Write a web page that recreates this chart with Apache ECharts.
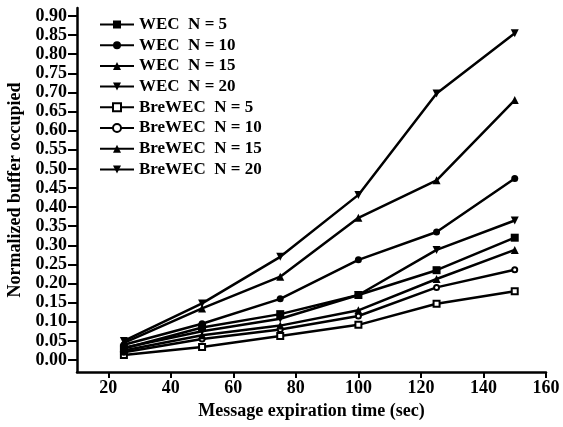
<!DOCTYPE html>
<html>
<head>
<meta charset="utf-8">
<script src="https://cdn.jsdelivr.net/npm/echarts@6/dist/echarts.min.js"></script>
<style>html,body{margin:0;padding:0;background:#fff}#c{width:563px;height:427px}</style>
</head>
<body>
<div id="c"></div>
<script>
var xValues = [25, 50, 75, 100, 125, 150];
var seriesNames = ['WEC  N = 5', 'WEC  N = 10', 'WEC  N = 15', 'WEC  N = 20',
                   'BreWEC  N = 5', 'BreWEC  N = 10', 'BreWEC  N = 15', 'BreWEC  N = 20'];
var wec5 = [0.030, 0.085, 0.120, 0.170, 0.235, 0.320];
var wec10 = [0.040, 0.095, 0.160, 0.262, 0.335, 0.475];
var wec15 = [0.045, 0.135, 0.218, 0.372, 0.470, 0.680];
var wec20 = [0.050, 0.148, 0.270, 0.432, 0.697, 0.855];
var brewec5 = [0.013, 0.034, 0.063, 0.092, 0.147, 0.180];
var brewec10 = [0.020, 0.055, 0.080, 0.115, 0.190, 0.236];
var brewec15 = [0.025, 0.065, 0.090, 0.130, 0.212, 0.288];
var brewec20 = [0.032, 0.075, 0.108, 0.170, 0.288, 0.365];
var yTicks = [0,0.05,0.1,0.15,0.2,0.25,0.3,0.35,0.4,0.45,0.5,0.55,0.6,0.65,0.7,0.75,0.8,0.85,0.9];
var xTicks = [20, 40, 60, 80, 100, 120, 140, 160];

var allData = [wec5, wec10, wec15, wec20, brewec5, brewec10, brewec15, brewec20];
var symbols = ['rect', 'circle', 'triangle', 'triangle', 'emptyRect', 'emptyCircle', 'triangle', 'triangle'];
var rotates = [0, 0, 0, 180, 0, 0, 0, 180];
var sizes = [8, 7, 8, 8, 6, 5, 8, 8];

var FONT = '"Liberation Serif", "DejaVu Serif", serif';
var chart = echarts.init(document.getElementById('c'), null, {renderer: 'canvas'});
var series = allData.map(function (d, i) {
  return {
    name: seriesNames[i],
    type: 'line',
    data: d.map(function (v, j) { return [xValues[j], v]; }),
    symbol: symbols[i],
    symbolSize: sizes[i],
    symbolRotate: rotates[i],
    showAllSymbol: true,
    lineStyle: {color: '#000', width: 2.5},
    itemStyle: {color: '#000', borderWidth: symbols[i].indexOf('empty') === 0 ? 1.6 : 0},
    emphasis: {disabled: true},
    animation: false
  };
});

chart.setOption({
  animation: false,
  backgroundColor: '#fff',
  grid: {left: 77, right: 17, top: 8, bottom: 55, containLabel: false, outerBoundsMode: 'none'},
  legend: {
    orient: 'vertical',
    left: 94,
    top: 11,
    itemWidth: 34,
    itemHeight: 10,
    itemGap: 3.7,
    data: seriesNames,
    textStyle: {fontFamily: FONT, fontWeight: 'bold', fontSize: 17, color: '#000'}
  },
  xAxis: {
    type: 'value',
    min: 10,
    max: 160,
    name: 'Message expiration time (sec)',
    nameLocation: 'middle',
    nameGap: 29,
    nameTextStyle: {fontFamily: FONT, fontWeight: 'bold', fontSize: 18, color: '#000'},
    axisLine: {show: true, onZero: false, lineStyle: {color: '#000', width: 2.5}},
    axisTick: {show: true, inside: false, length: 6, lineStyle: {color: '#000', width: 2}, customValues: xTicks},
    axisLabel: {fontFamily: FONT, fontWeight: 'bold', fontSize: 18, color: '#000', margin: 7, customValues: xTicks},
    splitLine: {show: false}
  },
  yAxis: {
    type: 'value',
    min: -0.0314,
    max: 0.921,
    name: 'Normalized buffer occupied',
    nameLocation: 'middle',
    nameGap: 50,
    nameTextStyle: {fontFamily: FONT, fontWeight: 'bold', fontSize: 18, color: '#000'},
    axisLine: {show: true, onZero: false, lineStyle: {color: '#000', width: 2.5}},
    axisTick: {show: true, inside: false, length: 9, lineStyle: {color: '#000', width: 2}, customValues: yTicks},
    axisLabel: {fontFamily: FONT, fontWeight: 'bold', fontSize: 18, color: '#000', margin: 10, customValues: yTicks,
      formatter: function (v) { return v.toFixed(2); }},
    splitLine: {show: false}
  },
  series: series
});
</script>
</body>
</html>
